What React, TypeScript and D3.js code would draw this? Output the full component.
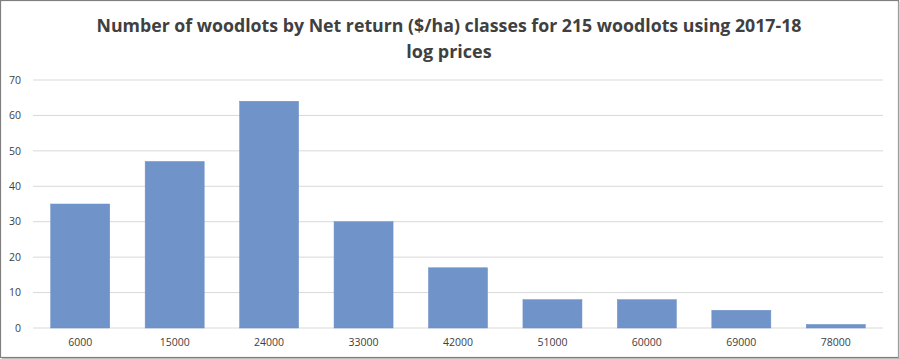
import React from "react";
import * as d3 from "d3";

const categories = ["6000", "15000", "24000", "33000", "42000", "51000", "60000", "69000", "78000"];
const counts = [35, 47, 64, 30, 17, 8, 8, 5, 1];
const yTicks = [0, 10, 20, 30, 40, 50, 60, 70];
const titleLines = [
  "Number of woodlots by Net return ($/ha) classes for 215 woodlots using 2017-18",
  "log prices",
];

const W = 900;
const H = 359;
const plot = { left: 33, right: 883, top: 80, bottom: 328 };

export default function App() {
  const x = d3
    .scaleBand<string>()
    .domain(categories)
    .range([plot.left, plot.right])
    .paddingInner(0.375)
    .paddingOuter(0.1875);
  const y = d3.scaleLinear().domain([0, 70]).range([plot.bottom, plot.top]);
  const font = "'Open Sans', 'Liberation Sans', sans-serif";
  return (
    <svg
      width={W}
      height={H}
      style={{ position: "absolute", left: 0, top: 0, background: "#fff" }}
      fontFamily={font}
    >
      <rect x={0.5} y={0.5} width={W - 2} height={H - 2} fill="#fff" stroke="#7f7f7f" strokeWidth={1.2} />
      <line x1={W - 1} y1={2} x2={W - 1} y2={H} stroke="#bbb" />
      <line x1={2} y1={H - 0.5} x2={W} y2={H - 0.5} stroke="#bbb" />
      {titleLines.map((t, i) => (
        <text
          key={i}
          x={449}
          y={32 + i * 26}
          textAnchor="middle"
          fontSize={18}
          fontWeight={700}
          fill="#404040"
          {...(i === 0 ? { textLength: 705, lengthAdjust: "spacingAndGlyphs" } : {})}
        >
          {t}
        </text>
      ))}
      {yTicks.map((t) => (
        <g key={t}>
          <line x1={plot.left} x2={plot.right} y1={y(t)} y2={y(t)} stroke="#d9d9d9" strokeWidth={1} />
          <text x={21} y={y(t)} dy="0.35em" textAnchor="end" fontSize={10.5} fill="#404040">
            {t}
          </text>
        </g>
      ))}
      {categories.map((c, i) => (
        <rect
          key={c}
          x={x(c)}
          y={y(counts[i])}
          width={x.bandwidth()}
          height={y(0) - y(counts[i])}
          fill="#7094c9"
          stroke="#6a8ec6"
          strokeWidth={0.5}
        />
      ))}
      {categories.map((c) => (
        <text
          key={c}
          x={(x(c) as number) + x.bandwidth() / 2}
          y={346}
          textAnchor="middle"
          fontSize={10.5}
          fill="#404040"
        >
          {c}
        </text>
      ))}
    </svg>
  );
}
